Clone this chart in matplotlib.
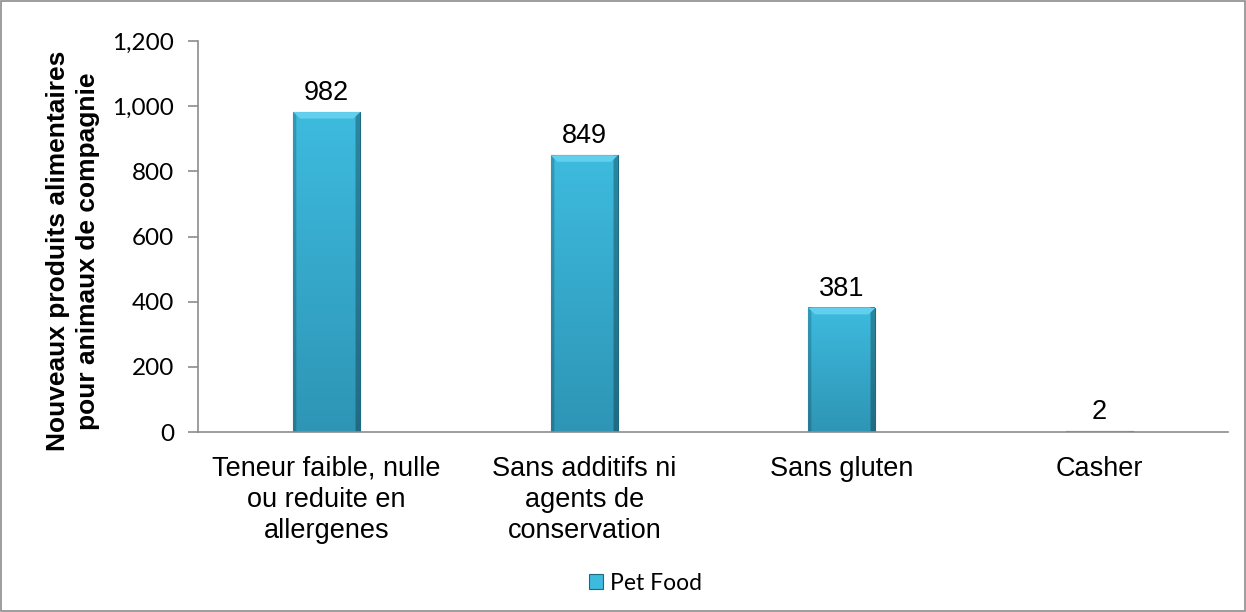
import matplotlib
matplotlib.use('Agg')
import numpy as np
import matplotlib.pyplot as plt
from matplotlib.patches import Rectangle, Polygon
from matplotlib.colors import to_rgb
from matplotlib.ticker import FuncFormatter

# Donnees
categories = ['Teneur faible, nulle\nou reduite en\nallergenes',
              'Sans additifs ni\nagents de\nconservation',
              'Sans gluten',
              'Casher']
valeurs = [982, 849, 381, 2]
nom_serie = 'Pet Food'
titre_y = 'Nouveaux produits alimentaires\npour animaux de compagnie'
graduations_y = [0, 200, 400, 600, 800, 1000, 1200]

couleur_haut = '#3DBBDF'
couleur_bas = '#2E95B5'
couleur_bord = '#1D6A80'
couleur_biseau = '#62CFEC'
couleur_axe = '#8C8C8C'


def degrade_barre(ax, barre):
    """Remplit la barre avec un degrade vertical et des bords plus sombres."""
    x0, y0 = barre.get_x(), barre.get_y()
    w, h = barre.get_width(), barre.get_height()
    if h <= 0:
        return
    t = np.linspace(0, 1, 120)[:, None, None]
    haut = np.array(to_rgb(couleur_haut))
    bas = np.array(to_rgb(couleur_bas))
    img = haut * (1 - t) + bas * t
    img = np.repeat(img, 60, axis=1)
    # bords gauche / droit plus sombres (effet biseau)
    img[:, :3] *= 0.82
    img[:, -4:] *= 0.72
    ax.imshow(img, extent=(x0, x0 + w, y0, y0 + h), aspect='auto',
              origin='upper', clip_path=barre, zorder=barre.get_zorder() + 0.1,
              interpolation='bilinear')
    # biseau clair en haut
    hb = min(20, h)
    ax.add_patch(Polygon([(x0, y0 + h), (x0 + w, y0 + h),
                          (x0 + w * 0.9, y0 + h - hb), (x0 + w * 0.1, y0 + h - hb)],
                         closed=True, facecolor=couleur_biseau, edgecolor='none',
                         zorder=barre.get_zorder() + 0.2))


fig = plt.figure(figsize=(12.46, 6.12), dpi=100)
ax = fig.add_axes([0.1589, 0.2941, 0.8267, 0.6389])

x = list(range(len(categories)))
barres = ax.bar(x, valeurs, width=0.26, color=couleur_haut,
                edgecolor=couleur_bord, linewidth=0.8, label=nom_serie)
for b in barres:
    degrade_barre(ax, b)

for xi, v in zip(x, valeurs):
    ax.annotate(str(v), (xi, v), xytext=(0, 6), textcoords='offset pixels',
                ha='center', va='bottom', fontsize=19.5, family='Liberation Sans')

ax.set_xlim(-0.5, len(categories) - 0.5)
ax.set_ylim(0, 1200)
ax.set_yticks(graduations_y)
ax.yaxis.set_major_formatter(FuncFormatter(lambda v, p: '{:,.0f}'.format(v)))
ax.set_xticks(x)
ax.set_xticklabels(categories, family='Liberation Sans', fontsize=19.5,
                   linespacing=1.27)

for s in ['top', 'right']:
    ax.spines[s].set_visible(False)
for s in ['left', 'bottom']:
    ax.spines[s].set_color(couleur_axe)
    ax.spines[s].set_linewidth(1.2)
ax.spines['bottom'].set_zorder(5)

ax.tick_params(axis='x', length=0, pad=17)
ax.tick_params(axis='y', length=7, width=1.2, color=couleur_axe, pad=10,
               labelsize=17.5)
for lab in ax.get_yticklabels():
    lab.set_family('Lato')

fig.text(73 / 1246, 1 - 251 / 612, titre_y, rotation=90, ha='center',
         va='center', ma='center', fontsize=19, fontweight='bold',
         family='Liberation Sans', linespacing=1.3)

fig.legend(handles=[barres], labels=[nom_serie], loc='center',
           bbox_to_anchor=(0.518, 0.047), frameon=False,
           handlelength=0.6, handleheight=0.6, handletextpad=0.3,
           prop={'family': 'Lato', 'size': 16.5})

# cadre gris autour de la figure
fig.patches.append(Rectangle((0.0008, 0.0016), 0.9984, 0.9968,
                             transform=fig.transFigure, fill=False,
                             edgecolor='#8C8C8C', linewidth=1.2))

fig.savefig('out.png', dpi=100)
